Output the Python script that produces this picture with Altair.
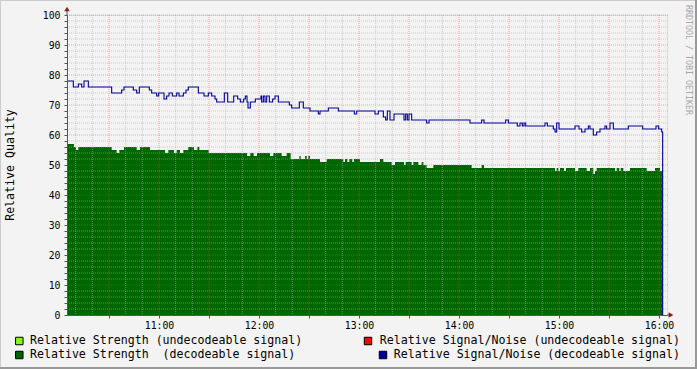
import altair as alt
import pandas as pd

# Time in minutes after 10:00, values in percent (step data)
blue_t = [4.8, 8.6, 11.6, 13.6, 15.0, 17.6, 31.6, 37.6, 39.0, 44.6, 46.6, 48.2, 54.2, 55.6, 58.6, 59.8,
          63.0, 64.6, 66.0, 68.0, 70.6, 72.0, 74.6, 76.2, 77.6, 83.6, 87.0, 89.6, 91.6, 93.6, 94.6, 99.2,
          101.2, 104.8, 107.2, 108.8, 110.8, 111.8, 112.8, 113.4, 114.8, 117.8, 121.2, 121.6, 122.6, 123.6,
          124.6, 126.2, 128.2, 129.6, 131.6, 138.2, 139.6, 144.2, 146.6, 150.6, 155.6, 156.6, 161.6, 167.6,
          177.2, 178.6, 189.6, 191.6, 194.6, 196.0, 197.0, 198.6, 201.0, 207.0, 208.0, 209.0, 210.0, 211.6,
          220.6, 222.0, 246.6, 253.6, 255.0, 268.0, 269.6, 275.0, 276.6, 278.0, 279.0, 280.0, 291.6, 293.0,
          296.6, 297.6, 298.6, 300.0, 309.6, 312.0, 313.6, 315.6, 317.6, 318.6, 320.6, 322.6, 324.6, 327.6,
          328.6, 330.6, 332.6, 341.6, 350.2, 358.2, 359.8, 361.6, 362.2]
blue_v = [78, 76, 77, 76, 78, 76, 74, 75, 76, 75, 74, 76, 75, 74, 73, 74,
          72, 73, 74, 73, 74, 73, 74, 75, 76, 74, 73, 74, 73, 72, 71, 74,
          71, 73, 72, 71, 72, 73, 71, 69, 71, 72, 73, 71, 73, 71,
          73, 71, 72, 73, 71, 70, 69, 71, 69, 68, 67, 68, 69, 68,
          67, 68, 67, 68, 66, 65, 68, 65, 67, 65, 67, 65, 67, 65,
          64, 65, 64, 65, 64, 65, 64, 63, 64, 63, 64, 63, 64, 63,
          62, 61, 64, 62, 63, 62, 61, 62, 63, 62, 60, 61, 62, 63,
          62, 64, 62, 63, 62, 63, 62, 61, 0]

green_t = [4.8, 9.0, 10.2, 11.6, 31.6, 34.6, 36.2, 39.0, 46.6, 48.6, 54.6, 63.6, 65.6, 69.0, 70.6, 72.6,
           74.6, 77.6, 81.0, 83.0, 84.2, 89.8, 112.8, 114.8, 116.8, 118.8, 126.6, 128.6, 133.6, 136.6,
           139.0, 144.2, 145.0, 147.6, 148.6, 149.6, 150.6, 156.6, 160.6, 170.6, 171.6, 173.0, 174.2,
           176.0, 177.0, 180.6, 192.6, 194.6, 199.6, 201.6, 207.0, 208.0, 211.6, 212.6, 215.6, 217.6,
           218.6, 220.6, 224.6, 247.6, 253.6, 255.0, 297.6, 298.6, 299.6, 300.6, 303.0, 304.2, 309.6,
           311.6, 316.6, 318.6, 320.6, 321.6, 322.6, 333.6, 334.6, 336.2, 337.0, 338.6, 342.6, 352.6,
           357.6, 360.6, 362.2]
green_v = [57, 56, 55, 56, 55, 54, 55, 56, 55, 56, 55, 54, 55, 54, 55, 54,
           55, 56, 55, 56, 55, 54, 53, 54, 53, 54, 53, 54, 53, 54,
           52, 53, 52, 53, 52, 53, 52, 51, 52, 51, 52, 51, 52,
           51, 52, 51, 52, 51, 50, 51, 50, 51, 50, 51, 50, 51,
           50, 49, 50, 49, 50, 49, 48, 49, 48, 49, 48, 49, 48,
           49, 48, 49, 47, 48, 49, 48, 49, 48, 49, 48, 49, 48,
           49, 48, 48]

legend_labels = ["Relative Strength (undecodeable signal)",
                 "Relative Strength \u00a0(decodeable signal)",
                 "Relative Signal/Noise (undecodeable signal)",
                 "Relative Signal/Noise (decodeable signal)"]
legend_colors = ["#80ff00", "#006600", "#ff0000", "#000099"]

y_title = "Relative Quality"
watermark = "RRDTOOL / TOBI OETIKER"

assert len(blue_t) == len(blue_v)
assert len(green_t) == len(green_v)

blue = pd.DataFrame({"t": blue_t, "v": blue_v})
green = pd.DataFrame({"t": green_t, "v": green_v})

minor_x = [m for m in range(10, 361, 10) if m % 30 != 0]
major_x = list(range(30, 361, 30))
minor_y = [v for v in range(2, 100, 2) if v % 10 != 0]
major_y = list(range(10, 101, 10))

FONT = "DejaVu Sans Mono"
AXC = "#555555"
LEG = 11.6

X = alt.X("t:Q", scale=alt.Scale(domain=[4.8, 364.8], nice=False, zero=False),
          axis=alt.Axis(values=major_x, title=None, grid=False, zindex=1,
                        labelExpr="datum.value % 60 === 0 ? (10 + datum.value / 60) + ':00' : ''",
                        labelFont=FONT, labelFontSize=9.8, labelColor="black",
                        tickSize=3, labelPadding=2, domainColor=AXC, tickColor=AXC,
                        labelFlush=False, labelOverlap=False))
Y = alt.Y("v:Q", scale=alt.Scale(domain=[0, 100], nice=False, zero=True),
          axis=alt.Axis(values=list(range(0, 101, 2)), title=None, grid=False, zindex=1,
                        labelExpr="datum.value % 10 === 0 ? '' + datum.value : ''",
                        labelFont=FONT, labelFontSize=9.8, labelColor="black",
                        tickSize=3, labelPadding=4, domainColor=AXC, tickColor=AXC,
                        labelOverlap=False))

area = alt.Chart(green).mark_area(interpolate="step-after", color=legend_colors[1], opacity=1).encode(x=X, y=Y)

gx_minor = alt.Chart(pd.DataFrame({"t": minor_x})).mark_rule(
    color="#b0b0b0", opacity=0.55, strokeWidth=1, strokeDash=[1, 1]).encode(
    x=X, y=alt.value(0), y2=alt.value(300))
gx_major = alt.Chart(pd.DataFrame({"t": major_x})).mark_rule(
    color="#ff4040", opacity=0.45, strokeWidth=1, strokeDash=[1, 1]).encode(
    x=X, y=alt.value(0), y2=alt.value(300))
gy_minor = alt.Chart(pd.DataFrame({"v": minor_y})).mark_rule(
    color="#b0b0b0", opacity=0.55, strokeWidth=1, strokeDash=[1, 1]).encode(
    y=Y, x=alt.value(0), x2=alt.value(601))
gy_major = alt.Chart(pd.DataFrame({"v": major_y})).mark_rule(
    color="#ff4040", opacity=0.45, strokeWidth=1, strokeDash=[1, 1]).encode(
    y=Y, x=alt.value(0), x2=alt.value(601))

line = alt.Chart(blue).mark_line(interpolate="step-after", color=legend_colors[3], strokeWidth=1.1).encode(x=X, y=Y)

dummy = pd.DataFrame({"a": [0]})


def txt(text, x, y, size, align="left", angle=0, color="black"):
    return alt.Chart(dummy).mark_text(text=text, align=align, baseline="middle", font=FONT,
                                      fontSize=size, angle=angle, color=color).encode(
        x=alt.value(x), y=alt.value(y))


def box(x, y, col):
    return alt.Chart(dummy).mark_square(size=56, fill=col, stroke="black", strokeWidth=1,
                                        opacity=1).encode(x=alt.value(x), y=alt.value(y))


def rule(x, x2, y, y2, col, w):
    return alt.Chart(dummy).mark_rule(color=col, strokeWidth=w).encode(
        x=alt.value(x), x2=alt.value(x2), y=alt.value(y), y2=alt.value(y2))


deco = [
    rule(0, 0, -6, 0, AXC, 1),
    rule(600, 603, 300, 300, AXC, 1),
    alt.Chart(dummy).mark_point(shape="triangle-up", filled=True, size=30, color="#8b1a1a",
                                opacity=1).encode(x=alt.value(0), y=alt.value(-6)),
    alt.Chart(dummy).mark_point(shape="triangle-right", filled=True, size=30, color="#8b1a1a",
                                opacity=1).encode(x=alt.value(604), y=alt.value(300)),
    txt(y_title, -56, 150, LEG, align="center", angle=270),
    txt(watermark, 621, 45, 8.3, align="center", angle=90, color="#a8a8a8"),
    box(-47.7, 326, legend_colors[0]), txt(legend_labels[0], -37, 326, LEG),
    box(-47.7, 340, legend_colors[1]), txt(legend_labels[1], -37, 340, LEG),
    box(301, 326, legend_colors[2]), txt(legend_labels[2], 613, 326, LEG, align="right"),
    box(316, 340, legend_colors[3]), txt(legend_labels[3], 613, 340, LEG, align="right"),
    rule(-67, 630, -14.5, -14.5, "#cccccc", 1),
    rule(-66.5, -66.5, -15, 354, "#cccccc", 1),
    rule(-67, 630, 353, 353, "#999999", 2),
    rule(629, 629, -15, 354, "#999999", 2),
]

chart = alt.layer(area, gx_minor, gx_major, gy_minor, gy_major, line, *deco).properties(
    width=600, height=300,
    autosize=alt.AutoSizeParams(type="none"),
    padding={"left": 67, "top": 15, "right": 30, "bottom": 54},
).configure_view(stroke=None, fill="white").configure(background="#f3f3f3")

chart.save("out.html", embed_options={"renderer": "svg", "actions": False})
